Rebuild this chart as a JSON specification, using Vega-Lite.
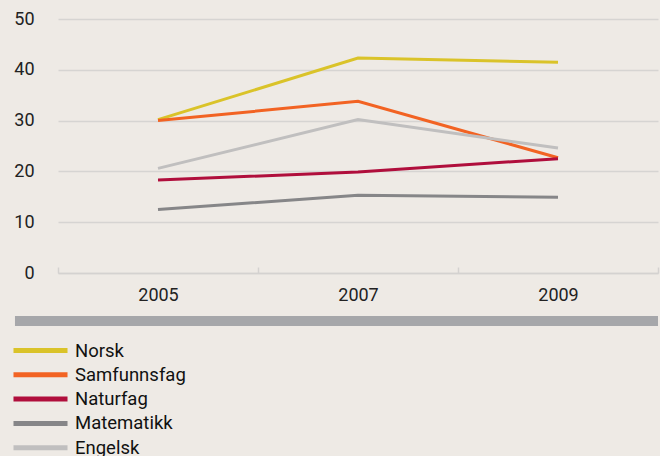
{
  "$schema": "https://vega.github.io/schema/vega-lite/v6.json",
  "background": "#eeeae5",
  "padding": {"left": 13, "top": 10, "right": 3, "bottom": 0},
  "config": {
    "view": {"stroke": null},
    "font": "Roboto",
    "axis": {"labelFont": "Roboto", "labelFontSize": 18, "labelColor": "#222222"},
    "legend": {"labelFont": "Roboto", "labelFontSize": 18.5, "labelColor": "#111111"},
    "concat": {"spacing": 12}
  },
  "vconcat": [
    {
      "width": 600,
      "height": 254,
      "data": {
        "values": [
          {"fag": "Norsk", "år": "2005", "verdi": 30.2},
          {"fag": "Norsk", "år": "2007", "verdi": 42.3},
          {"fag": "Norsk", "år": "2009", "verdi": 41.5},
          {"fag": "Samfunnsfag", "år": "2005", "verdi": 30.0},
          {"fag": "Samfunnsfag", "år": "2007", "verdi": 33.8},
          {"fag": "Samfunnsfag", "år": "2009", "verdi": 22.7},
          {"fag": "Naturfag", "år": "2005", "verdi": 18.3},
          {"fag": "Naturfag", "år": "2007", "verdi": 19.9},
          {"fag": "Naturfag", "år": "2009", "verdi": 22.5},
          {"fag": "Matematikk", "år": "2005", "verdi": 12.5},
          {"fag": "Matematikk", "år": "2007", "verdi": 15.3},
          {"fag": "Matematikk", "år": "2009", "verdi": 14.9},
          {"fag": "Engelsk", "år": "2005", "verdi": 20.6},
          {"fag": "Engelsk", "år": "2007", "verdi": 30.2},
          {"fag": "Engelsk", "år": "2009", "verdi": 24.6}
        ]
      },
      "mark": {"type": "line", "strokeWidth": 3},
      "encoding": {
        "x": {
          "field": "år", "type": "ordinal",
          "scale": {"type": "band", "paddingInner": 0, "paddingOuter": 0},
          "axis": {
            "title": null, "labelAngle": 0, "tickBand": "extent",
            "domainColor": "#d4d2d0", "domainWidth": 1.5,
            "tickColor": "#d4d2d0", "tickWidth": 1.5, "tickSize": -6,
            "labelPadding": 19
          }
        },
        "y": {
          "field": "verdi", "type": "quantitative",
          "scale": {"domain": [0, 50]},
          "axis": {
            "title": null, "values": [0, 10, 20, 30, 40, 50],
            "domain": false, "ticks": false, "labelPadding": 24,
            "gridColor": "#d6d4d2", "gridWidth": 1.5,
            "minExtent": 44, "maxExtent": 44
          }
        },
        "color": {
          "field": "fag", "type": "nominal",
          "scale": {
            "domain": ["Norsk", "Samfunnsfag", "Naturfag", "Matematikk", "Engelsk"],
            "range": ["#dac329", "#f26323", "#b00e3c", "#868688", "#c0bfbf"]
          },
          "legend": {
            "title": null, "orient": "none", "legendX": -31, "legendY": 318,
            "symbolType": "M-2.5,0H2.5", "symbolSize": 467, "symbolStrokeWidth": 5,
            "symbolFillColor": "transparent",
            "labelOffset": 21, "rowPadding": 0.3
          }
        }
      }
    },
    {
      "width": 600,
      "height": 10,
      "data": {"values": [{"start": -0.0717, "end": 1}]},
      "mark": {"type": "rect", "color": "#a6a7aa"},
      "encoding": {
        "x": {"field": "start", "type": "quantitative", "scale": {"domain": [0, 1], "nice": false, "zero": false}, "axis": null},
        "x2": {"field": "end"}
      }
    }
  ]
}
